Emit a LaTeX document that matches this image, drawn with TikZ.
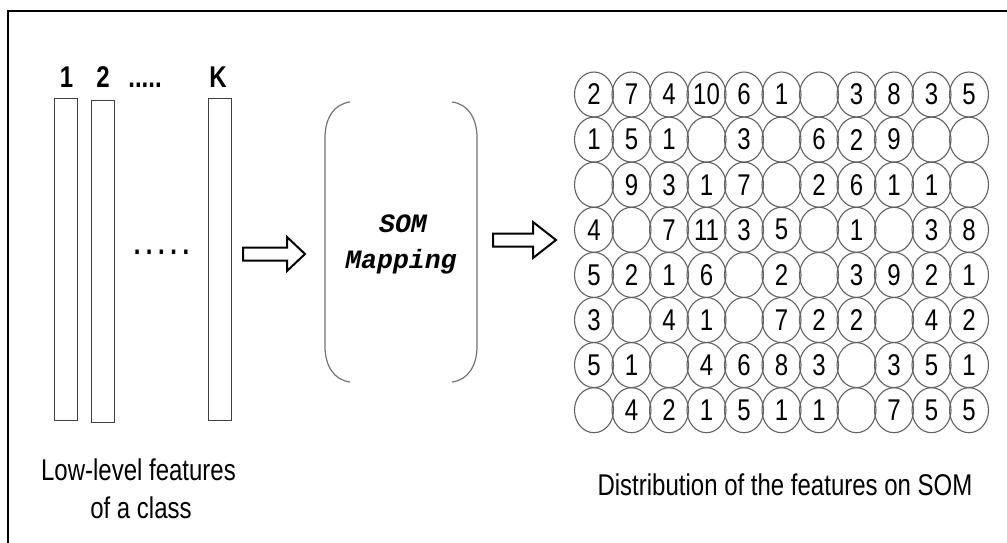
\documentclass[tikz,border=0pt]{standalone}
\usepackage{fontspec}
\setmainfont{Liberation Sans}
\newfontfamily\labf[FakeStretch=0.8]{Liberation Sans}
\newfontfamily\monof{Liberation Mono}
\usetikzlibrary{shapes.geometric}
\begin{document}
\begin{tikzpicture}[x=1pt,y=-1pt,
  cell/.style={ellipse, draw=black!62, line width=1.1pt, minimum width=39pt, minimum height=45pt, inner sep=0pt, font=\labf\fontsize{30}{30}\selectfont},
  bar/.style={draw=black!75, line width=1pt, minimum width=23pt, minimum height=322pt, inner sep=0pt},
  toplab/.style={anchor=base, inner sep=0pt, font=\labf\bfseries\fontsize{30}{30}\selectfont},
  caption/.style={anchor=base, inner sep=0pt, font=\labf\fontsize{30}{30}\selectfont},
  somtxt/.style={anchor=base, inner sep=0pt, font=\monof\bfseries\itshape\fontsize{26.5}{30}\selectfont},
  paren/.style={draw=black!55, line width=1.2pt},
  blockarrow/.style={draw=black, line width=2pt, line join=miter, fill=white}]
\fill[white] (0,0) rectangle (1007,543);
\useasboundingbox (0,0) rectangle (1007,543);
% frame
\draw[line width=1.6pt] (8,543) -- (8,11) -- (1007,11);
% feature bars
\node[bar] (b1) at (66,259) {};
\node[bar] (b2) at (103,261) {};
\node[bar] (bk) at (220,259) {};
\node[toplab] (l1) at (66.5,88) {1};
\node[toplab] (l2) at (103,88) {2};
\node[toplab] (ld) at (145,88) {.....};
\node[toplab] (lk) at (218,88) {K};
\node[anchor=base, inner sep=0pt, font=\labf\bfseries\fontsize{30}{30}\selectfont] (mid) at (161.5,254) {.\hspace{5.5pt}.\hspace{5.5pt}.\hspace{5.5pt}.\hspace{5.5pt}.};
\node[caption] (cap1a) at (138.5,480) {Low-level features};
\node[caption] (cap1b) at (141,518) {of a class};
% arrow 1
\draw[blockarrow] (243,247.5) -- (287,247.5) -- (287,237) -- (305,254) -- (287,271) -- (287,260.5) -- (243,260.5) -- cycle;
% SOM mapping brackets
\draw[paren] (350,102) .. controls (334,104) and (325,118) .. (325,138) -- (325,346) .. controls (325,366) and (334,380) .. (350,382);
\draw[paren] (452,102) .. controls (468,104) and (477,118) .. (477,138) -- (477,346) .. controls (477,366) and (468,380) .. (452,382);
\node[somtxt] (som1) at (403,232) {SOM};
\node[somtxt] (som2) at (401,268) {Mapping};
% arrow 2
\draw[blockarrow] (493,233.5) -- (533,233.5) -- (533,222) -- (556,240) -- (533,258) -- (533,246.5) -- (493,246.5) -- cycle;
% SOM grid
\foreach \row [count=\i from 0] in {
  {2,7,4,10,6,1,{},3,8,3,5},
  {1,5,1,{},3,{},6,2,9,{},{}},
  {{},9,3,1,7,{},2,6,1,1,{}},
  {4,{},7,11,3,5,{},1,{},3,8},
  {5,2,1,6,{},2,{},3,9,2,1},
  {3,{},4,1,{},7,2,2,{},4,2},
  {5,1,{},4,6,8,3,{},3,5,1},
  {{},4,2,1,5,1,1,{},7,5,5}} {
  \foreach \v [count=\j from 0] in \row {
    \node[cell] (c-\i-\j) at (594+37.5*\j, 94.5+45.1*\i) {\v};
  }
}
\node[caption] (cap2) at (785,495) {Distribution of the features on SOM};
\end{tikzpicture}
\end{document}
